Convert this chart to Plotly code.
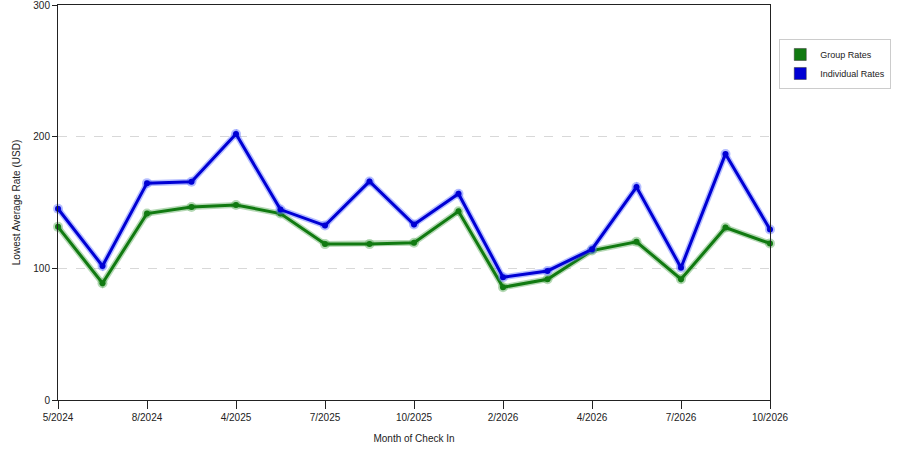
import plotly.graph_objects as go

# months of check in (only every other one is labelled on the axis)
months = [
    "5/2024", "6/2024", "8/2024", "12/2024", "4/2025", "5/2025", "7/2025", "8/2025",
    "10/2025", "12/2025", "2/2026", "3/2026", "4/2026", "5/2026", "7/2026", "8/2026",
    "10/2026",
]
tick_months = months[::2]

group_rates = [131.5, 88.7, 141.6, 146.6, 148.1, 141.6, 118.4, 118.4, 119.4,
               143.3, 85.6, 91.7, 113.5, 120.2, 91.7, 131.0, 118.9]
individual_rates = [145.3, 101.8, 164.7, 165.7, 202.0, 144.6, 132.5, 166.0, 133.3,
                    156.7, 93.2, 98.0, 114.5, 161.7, 100.5, 186.9, 129.5]

GREEN = "#117a11"
BLUE = "#0000d4"
FONT = "Liberation Sans"

fig = go.Figure()

for name, vals, color, halo in [
    ("Group Rates", group_rates, GREEN, "rgba(90,170,90,0.45)"),
    ("Individual Rates", individual_rates, BLUE, "rgba(90,110,255,0.45)"),
]:
    # soft halo under the line
    fig.add_trace(go.Scatter(
        x=months, y=vals, mode="lines+markers", showlegend=False, hoverinfo="skip",
        line=dict(color=halo, width=6), marker=dict(size=10, color=halo),
        cliponaxis=False,
    ))
    fig.add_trace(go.Scatter(
        x=months, y=vals, mode="lines+markers", name=name, showlegend=False,
        line=dict(color=color, width=3), marker=dict(size=6, color=color),
        cliponaxis=False,
    ))
    # square legend swatch
    fig.add_trace(go.Scatter(
        x=[None], y=[None], mode="markers", name=name,
        marker=dict(symbol="square", size=12, color=color,
                    line=dict(color="#333333", width=0.5)),
    ))

fig.update_layout(
    width=900, height=450,
    margin=dict(l=58, r=130, t=5, b=50),
    paper_bgcolor="white", plot_bgcolor="white",
    font=dict(family=FONT, size=10, color="#222222"),
    legend=dict(
        x=1.013, y=0.914, xanchor="left", yanchor="top",
        bordercolor="#cccccc", borderwidth=1, bgcolor="white",
        font=dict(family=FONT, size=9, color="#222222"),
        itemwidth=30, tracegroupgap=2,
    ),
)

fig.update_xaxes(
    type="category", range=[0, 16], automargin=False,
    tickmode="array", tickvals=tick_months, ticktext=tick_months,
    ticks="outside", ticklen=8, tickcolor="#222222",
    showline=True, linecolor="#222222", linewidth=1, mirror=True,
    showgrid=False, zeroline=False,
    title=dict(text="Month of Check In", standoff=12, font=dict(size=10)),
    tickfont=dict(size=10),
)
fig.update_yaxes(
    range=[0, 300], tickvals=[0, 100, 200, 300], automargin=False,
    ticklabeloverflow="allow",
    ticks="outside", ticklen=5, tickcolor="#222222",
    showline=True, linecolor="#222222", linewidth=1, mirror=True,
    showgrid=True, gridcolor="#d8d8d8", griddash="dash", gridwidth=1,
    zeroline=False,
    title=dict(text="Lowest Average Rate (USD)", standoff=10, font=dict(size=10)),
    tickfont=dict(size=10),
)

# drop the browser's default page margin so the figure sits at the window corner
fig.write_html(
    "out.html",
    config={"displayModeBar": False},
    post_script="document.body.style.margin='0';",
)
